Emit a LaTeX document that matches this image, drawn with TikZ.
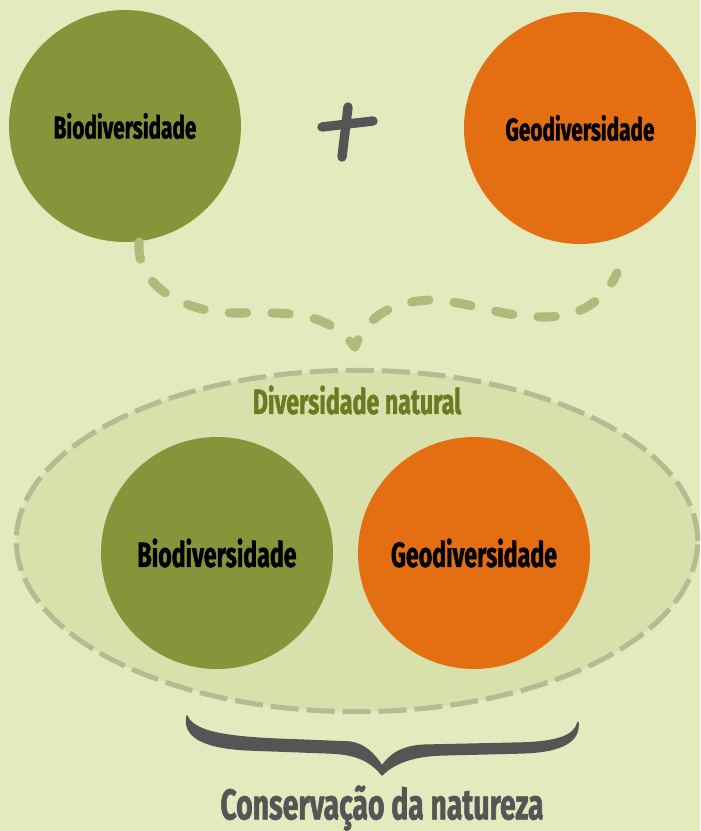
\documentclass[tikz,border=0pt]{standalone}
\usepackage{fontspec}
\setmainfont{Fira Sans}
\newfontfamily\condfont[FakeStretch=0.66,FakeBold=1.2]{Fira Sans}
\usepackage{tikz}
\usetikzlibrary{shapes.geometric}

\definecolor{paper}{HTML}{E2EABE}
\definecolor{leaf}{HTML}{87953A}
\definecolor{rust}{HTML}{E46E12}
\definecolor{pool}{HTML}{D8E0AC}
\definecolor{rim}{HTML}{B5BC94}
\definecolor{trail}{HTML}{AFBA7B}
\definecolor{ink}{HTML}{555555}
\definecolor{olive}{HTML}{6B7B22}

\begin{document}
\begin{tikzpicture}[x=0.75pt,y=-0.75pt,
  every node/.style={align=center,font=\condfont\bfseries},
  bio/.style={circle,fill=leaf,minimum size=174pt,inner sep=0pt,
    font=\condfont\bfseries\fontsize{23.6}{26}\selectfont},
  geo/.style={bio,fill=rust},
  natural/.style={ellipse,draw=rim,fill=pool,line width=3.8pt,
    dash pattern=on 21pt off 6pt,minimum width=511pt,minimum height=256pt},
  trail/.style={draw=trail,line width=6.8pt,line cap=round,
    dash pattern=on 13pt off 19pt,dash phase=7pt},
  title/.style={text=olive,font=\condfont\bfseries\fontsize{26.4}{29}\selectfont},
  result/.style={text=ink,font=\condfont\bfseries\fontsize{32.2}{35}\selectfont}]

    \fill[paper] (0,0) rectangle (700,831);
    \useasboundingbox (0,0) rectangle (700,831);

    % top row
    \node[bio](bioA) at (125,126) {Biodiversidade};
    \node[geo](geoA) at (580,128) {Geodiversidade};
    \draw[ink,line width=7pt,line cap=round] (322,127) -- (373,121);
    \draw[ink,line width=7pt,line cap=round] (348,107) -- (342,157);

    % dashed joining curve
    \coordinate (join) at (355,347);
    \coordinate (tail) at (617,273);
    \draw[trail] (join) to[out=128,in=0] (235,313)
      to[out=180,in=-95] (bioA.-83);
    \draw[trail] (join) to[out=70,in=180] (435,300)
      to[out=-5,in=180] (545,317) to[out=0,in=-115] (tail);

    % the merged ellipse
    \node[natural](nat) at (357,541) {};
    \node[title](natlabel) at (357,400) {Diversidade natural};
    \node[bio,font=\condfont\bfseries\fontsize{26.3}{28}\selectfont](bioB) at (217,553) {Biodiversidade};
    \node[geo,font=\condfont\bfseries\fontsize{26.3}{28}\selectfont](geoB) at (474,553) {Geodiversidade};

    % brace and result
    \fill[ink,draw=ink,line width=1pt,line join=round] (187,716)
      .. controls (195,735) and (240,738) .. (300,740) -- (350,742)
      .. controls (365,744) and (375,755) .. (382,766)
      .. controls (392,752) and (405,745) .. (430,745) -- (520,743)
      .. controls (560,742) and (575,735) .. (578,722)
      .. controls (580,740) and (565,752) .. (520,753) -- (440,755)
      .. controls (415,756) and (395,762) .. (382,775)
      .. controls (370,760) and (355,754) .. (330,753) -- (250,750)
      .. controls (200,748) and (183,735) .. (187,716) -- cycle;
    \node[result](cons) at (382,808) {Conservação da natureza};
\end{tikzpicture}
\end{document}
